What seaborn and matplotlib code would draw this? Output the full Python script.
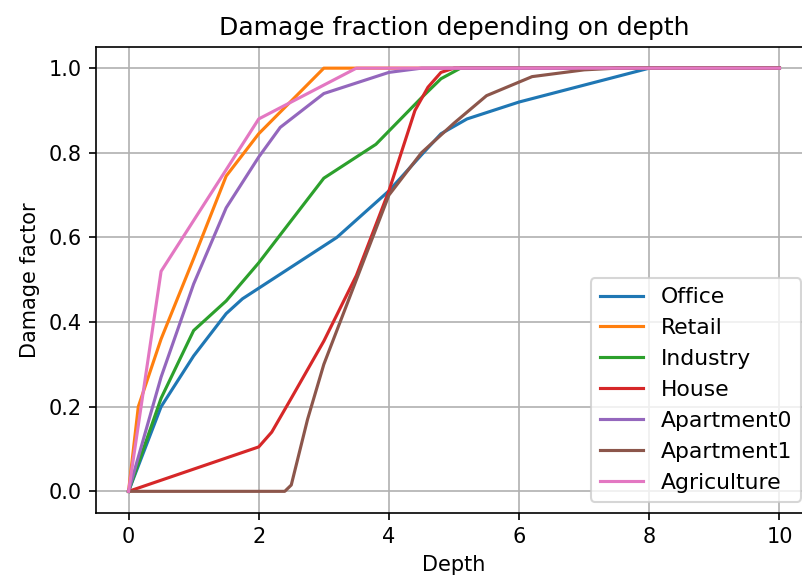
import pandas as pd
import matplotlib
matplotlib.use("Agg")
import matplotlib.pyplot as plt
import seaborn as sns

# Depth (x) and damage factor (y) per building type
office_depth = [0, 0.5, 1, 1.5, 1.75, 2, 3.2, 4, 4.5, 4.8, 5.2, 6, 8, 10]
office_damage = [0, 0.2, 0.32, 0.42, 0.455, 0.48, 0.6, 0.71, 0.795, 0.845, 0.88, 0.92, 1.0, 1.0]

retail_depth = [0, 0.15, 0.5, 1, 1.5, 2, 3, 10]
retail_damage = [0, 0.2, 0.36, 0.55, 0.745, 0.845, 1.0, 1.0]

industry_depth = [0, 0.5, 1, 1.5, 2, 3, 3.8, 4.5, 4.8, 5.1, 10]
industry_damage = [0, 0.22, 0.38, 0.45, 0.54, 0.74, 0.82, 0.93, 0.975, 1.0, 1.0]

house_depth = [0, 2, 2.2, 2.5, 3, 3.5, 4, 4.4, 4.6, 4.8, 5, 10]
house_damage = [0, 0.105, 0.14, 0.22, 0.355, 0.51, 0.71, 0.9, 0.955, 0.99, 1.0, 1.0]

apartment0_depth = [0, 0.5, 1, 1.5, 2, 2.33, 3, 3.6, 4, 4.5, 10]
apartment0_damage = [0, 0.27, 0.49, 0.67, 0.79, 0.86, 0.94, 0.97, 0.99, 1.0, 1.0]

apartment1_depth = [0, 2.4, 2.5, 2.75, 3, 3.5, 4, 4.5, 5, 5.5, 6.2, 7, 7.5, 10]
apartment1_damage = [0, 0, 0.015, 0.17, 0.3, 0.5, 0.7, 0.8, 0.87, 0.935, 0.98, 0.996, 1.0, 1.0]

agriculture_depth = [0, 0.5, 1, 1.5, 2, 3, 3.5, 10]
agriculture_damage = [0, 0.52, 0.64, 0.76, 0.88, 0.96, 1.0, 1.0]

curves = {
    "Office": (office_depth, office_damage),
    "Retail": (retail_depth, retail_damage),
    "Industry": (industry_depth, industry_damage),
    "House": (house_depth, house_damage),
    "Apartment0": (apartment0_depth, apartment0_damage),
    "Apartment1": (apartment1_depth, apartment1_damage),
    "Agriculture": (agriculture_depth, agriculture_damage),
}

rows = []
for name, (depths, damages) in curves.items():
    for d, v in zip(depths, damages):
        rows.append({"Depth": d, "Damage": v, "Type": name})
df = pd.DataFrame(rows)

DPI = 150
fig = plt.figure(figsize=(802 / DPI, 579 / DPI), dpi=DPI)
ax = fig.add_axes([96 / 802, (579 - 512.5) / 579, (812 - 96) / 802, (512.5 - 47) / 579])

sns.lineplot(data=df, x="Depth", y="Damage", hue="Type", hue_order=list(curves),
             palette="tab10", estimator=None, sort=False, ax=ax)

ax.set_title("Damage fraction depending on depth")
ax.set_xlabel("Depth")
ax.set_ylabel("Damage factor")
ax.grid(True)
sns.move_legend(ax, "lower right", title=None, fontsize=10.5)

fig.savefig("out.png", dpi=DPI)
